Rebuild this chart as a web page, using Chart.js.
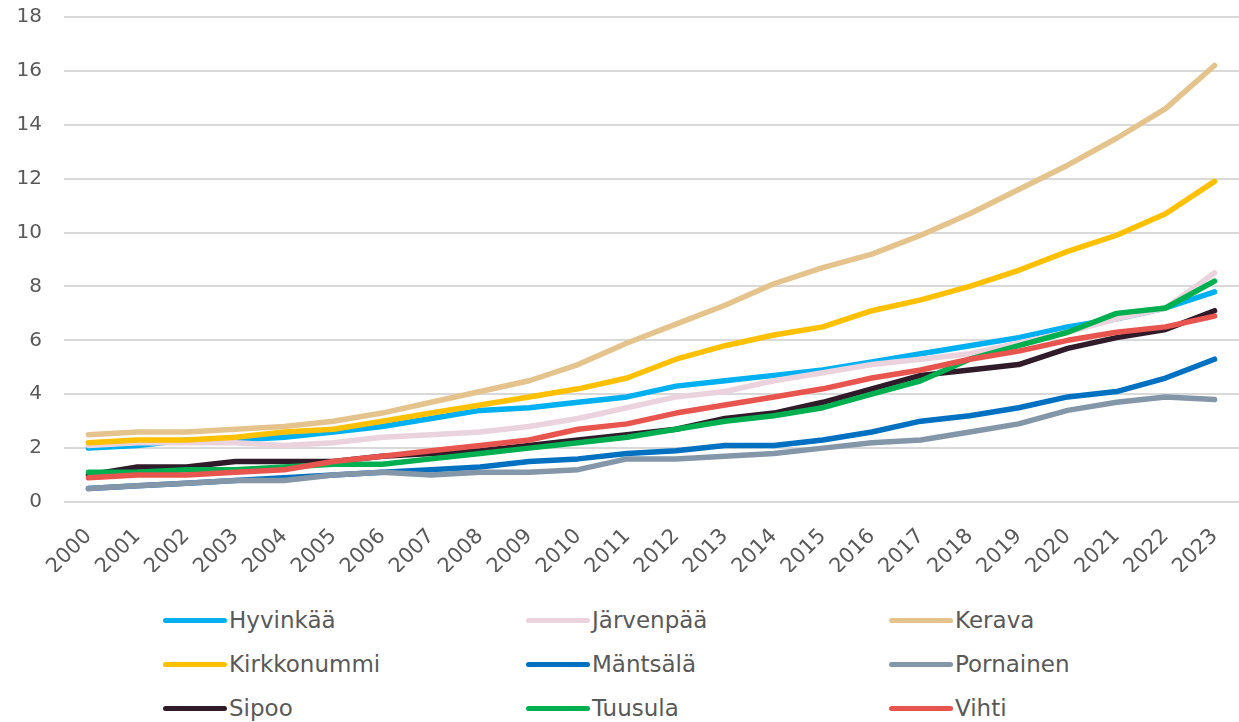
<!DOCTYPE html>
<html>
<head>
<meta charset="utf-8">
<script src="https://cdn.jsdelivr.net/npm/chart.js@4/dist/chart.umd.min.js"></script>
<style>
  html, body { margin: 0; padding: 0; background: #fff; }
  #wrap { position: relative; width: 1239px; height: 590px; }
  #legend {
    position: absolute; left: 163px; top: 603px;
    display: grid; grid-template-columns: 363px 363px 300px; grid-auto-rows: 44px;
    font-family: "DejaVu Sans", sans-serif; font-size: 23px; color: #595959;
  }
  #legend .item { display: flex; align-items: center; height: 34px; }
  #legend .swatch { width: 64px; height: 5px; border-radius: 3px; margin-right: 2px; }
</style>
</head>
<body>
<div id="wrap"><canvas id="chart"></canvas></div>
<div id="legend"></div>
<script>
// ── Data ─────────────────────────────────────────────────────
const years = ['2000','2001','2002','2003','2004','2005','2006','2007','2008','2009','2010','2011',
               '2012','2013','2014','2015','2016','2017','2018','2019','2020','2021','2022','2023'];

const hyvinkaa    = [2.0, 2.1, 2.3, 2.3, 2.4, 2.6, 2.8, 3.1, 3.4, 3.5, 3.7, 3.9, 4.3, 4.5, 4.7, 4.9, 5.2, 5.5, 5.8, 6.1, 6.5, 6.8, 7.2, 7.8];
const jarvenpaa   = [2.1, 2.2, 2.2, 2.2, 2.1, 2.2, 2.4, 2.5, 2.6, 2.8, 3.1, 3.5, 3.9, 4.1, 4.5, 4.8, 5.1, 5.3, 5.5, 5.9, 6.3, 6.8, 7.2, 8.5];
const kerava      = [2.5, 2.6, 2.6, 2.7, 2.8, 3.0, 3.3, 3.7, 4.1, 4.5, 5.1, 5.9, 6.6, 7.3, 8.1, 8.7, 9.2, 9.9, 10.7, 11.6, 12.5, 13.5, 14.6, 16.2];
const kirkkonummi = [2.2, 2.3, 2.3, 2.4, 2.6, 2.7, 3.0, 3.3, 3.6, 3.9, 4.2, 4.6, 5.3, 5.8, 6.2, 6.5, 7.1, 7.5, 8.0, 8.6, 9.3, 9.9, 10.7, 11.9];
const mantsala    = [0.5, 0.6, 0.7, 0.8, 0.9, 1.0, 1.1, 1.2, 1.3, 1.5, 1.6, 1.8, 1.9, 2.1, 2.1, 2.3, 2.6, 3.0, 3.2, 3.5, 3.9, 4.1, 4.6, 5.3];
const pornainen   = [0.5, 0.6, 0.7, 0.8, 0.8, 1.0, 1.1, 1.0, 1.1, 1.1, 1.2, 1.6, 1.6, 1.7, 1.8, 2.0, 2.2, 2.3, 2.6, 2.9, 3.4, 3.7, 3.9, 3.8];
const sipoo       = [1.0, 1.3, 1.3, 1.5, 1.5, 1.5, 1.7, 1.8, 1.9, 2.1, 2.3, 2.5, 2.7, 3.1, 3.3, 3.7, 4.2, 4.7, 4.9, 5.1, 5.7, 6.1, 6.4, 7.1];
const tuusula     = [1.1, 1.1, 1.2, 1.2, 1.3, 1.4, 1.4, 1.6, 1.8, 2.0, 2.2, 2.4, 2.7, 3.0, 3.2, 3.5, 4.0, 4.5, 5.3, 5.8, 6.3, 7.0, 7.2, 8.2];
const vihti       = [0.9, 1.0, 1.0, 1.1, 1.2, 1.5, 1.7, 1.9, 2.1, 2.3, 2.7, 2.9, 3.3, 3.6, 3.9, 4.2, 4.6, 4.9, 5.3, 5.6, 6.0, 6.3, 6.5, 6.9];

const names  = ['Hyvinkää','Järvenpää','Kerava','Kirkkonummi','Mäntsälä','Pornainen','Sipoo','Tuusula','Vihti'];
const series = [hyvinkaa, jarvenpaa, kerava, kirkkonummi, mantsala, pornainen, sipoo, tuusula, vihti];
const colors = ['#00B0F0','#EAD3DD','#E4C38C','#FFC000','#0070C0','#8497A8','#2F1B2A','#00B050','#E8554E'];

const yTicks = { min: 0, max: 18, step: 2 };

// ── Chart ────────────────────────────────────────────────────
const FONT = '"DejaVu Sans", sans-serif';
const TXT  = '#595959';

const chart = new Chart(document.getElementById('chart'), {
  type: 'line',
  data: {
    labels: years,
    datasets: series.map((d, i) => ({
      label: names[i],
      data: d,
      borderColor: colors[i],
      backgroundColor: colors[i],
      borderWidth: 5.5,
      pointRadius: 0,
      tension: 0,
      fill: false,
      borderCapStyle: 'round',
      borderJoinStyle: 'round',
      order: -i,   // later series drawn on top
    })),
  },
  options: {
    responsive: true,
    maintainAspectRatio: false,
    animation: false,
    layout: { padding: { top: 17, right: 0, bottom: 18, left: 0 } },
    plugins: { legend: { display: false }, tooltip: { enabled: false } },
    scales: {
      x: {
        offset: true,
        grid: { display: false },
        border: { display: false },
        ticks: { color: TXT, font: { family: FONT, size: 21 }, minRotation: 45, maxRotation: 45, padding: 14 },
        afterFit: s => { s.paddingLeft = 0; s.paddingRight = 0; s.height = 70; },
      },
      y: {
        min: yTicks.min, max: yTicks.max,
        border: { display: false },
        grid: { color: '#D9D9D9', lineWidth: 2, drawTicks: false },
        ticks: { stepSize: yTicks.step, color: TXT, font: { family: FONT, size: 20 }, padding: 22 },
        afterFit: s => { s.width = 64; s.paddingTop = 0; s.paddingBottom = 0; },
      },
    },
  },
});

// ── HTML legend ──────────────────────────────────────────────
document.getElementById('legend').innerHTML = chart.data.datasets.map(ds => `
  <div class="item"><span class="swatch" style="background:${ds.borderColor}"></span><span>${ds.label}</span></div>`).join('');
</script>
</body>
</html>
